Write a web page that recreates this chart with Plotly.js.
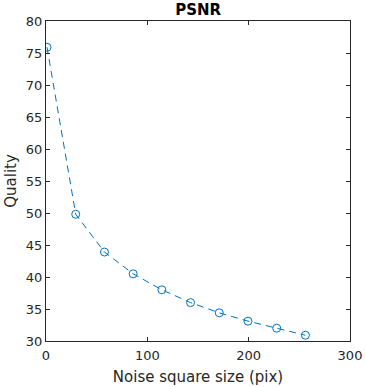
<!DOCTYPE html>
<html>
<head>
<meta charset="utf-8">
<script src="https://cdn.plot.ly/plotly-3.0.1.min.js"></script>
<style>html,body{margin:0;padding:0;background:#fff;}#chart{width:365px;height:387px;}</style>
</head>
<body>
<div id="chart"></div>
<script>
const noiseSize = [1, 29.33, 57.67, 86, 114.33, 142.67, 171, 199.33, 227.67, 256];
const quality = [75.9, 49.8, 43.9, 40.5, 38.0, 36.0, 34.4, 33.1, 32.0, 30.9];
const xTicks = [0, 100, 200, 300];
const yTicks = [30, 35, 40, 45, 50, 55, 60, 65, 70, 75, 80];

const axisColor = '#262626';
const trace = {
  x: noiseSize, y: quality, type: 'scatter', mode: 'lines+markers',
  line: {color: '#0072BD', width: 1, dash: '7px,5px'},
  marker: {symbol: 'circle-open', size: 8, color: '#0072BD', line: {width: 1, color: '#0072BD'}},
  hoverinfo: 'none'
};
const layout = {
  width: 365, height: 387,
  margin: {l: 46, r: 15, t: 21, b: 46, pad: 0},
  paper_bgcolor: '#fff', plot_bgcolor: '#fff',
  font: {family: 'DejaVu Sans', size: 13, color: axisColor},
  showlegend: false,
  title: {text: '<b>PSNR</b>', font: {family: 'DejaVu Sans', size: 15, color: '#000'}, x: 0.5429, xanchor: 'center', y: 0.974, yanchor: 'middle'},
  xaxis: {
    range: [0, 300], tickvals: xTicks, ticktext: xTicks.map(String),
    showgrid: false, zeroline: false, showline: true, linecolor: axisColor, linewidth: 1,
    mirror: 'ticks', ticks: 'inside', ticklen: 4, tickcolor: axisColor,
    tickfont: {size: 13, color: axisColor}, ticklabelstandoff: 2,
    title: {text: 'Noise square size (pix)', font: {size: 15, color: axisColor}, standoff: 9}
  },
  yaxis: {
    range: [30, 80], tickvals: yTicks, ticktext: yTicks.map(String),
    showgrid: false, zeroline: false, showline: true, linecolor: axisColor, linewidth: 1,
    mirror: 'ticks', ticks: 'inside', ticklen: 4, tickcolor: axisColor,
    tickfont: {size: 13, color: axisColor},
    title: {text: 'Quality', font: {size: 15, color: axisColor}, standoff: 5}
  }
};
Plotly.newPlot('chart', [trace], layout, {staticPlot: true, displayModeBar: false});
</script>
</body>
</html>
